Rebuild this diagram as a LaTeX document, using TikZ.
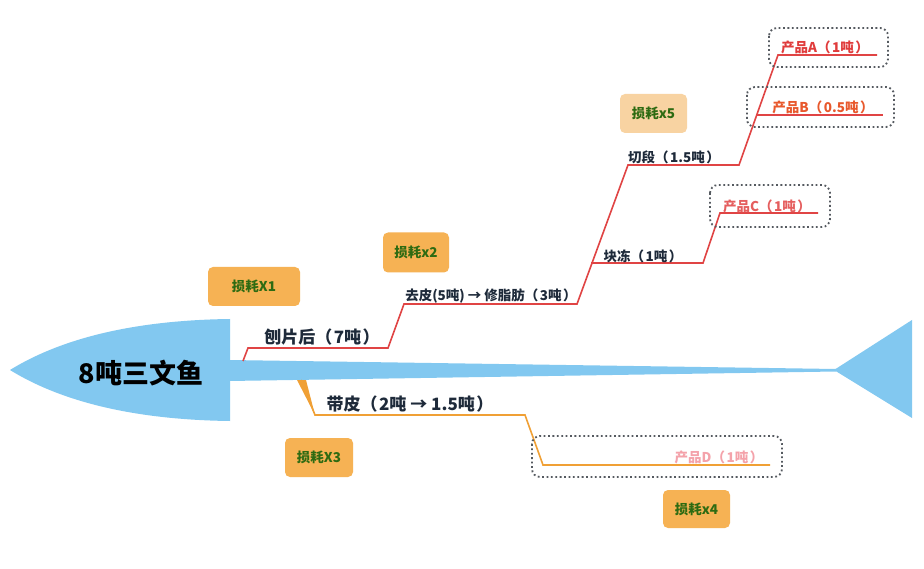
\documentclass[tikz,border=0pt]{standalone}
\usepackage{fontspec}
\setmainfont{Noto Sans CJK SC}
\usetikzlibrary{positioning}
\definecolor{fishblue}{HTML}{82C8F0}
\definecolor{redline}{HTML}{E04444}
\definecolor{orangeline}{HTML}{F0A035}
\definecolor{lossfill}{HTML}{F6B254}
\definecolor{lossfilllight}{HTML}{F8D3A2}
\definecolor{lossgreen}{HTML}{2E6B12}
\definecolor{darktext}{HTML}{1E2A3A}
\definecolor{prodA}{HTML}{E03C3C}
\definecolor{prodB}{HTML}{E8582C}
\definecolor{prodC}{HTML}{E55E5E}
\definecolor{prodD}{HTML}{F4A2AA}
\definecolor{dotgray}{HTML}{555A60}
\newcommand{\lp}{（\kern1.5pt}
\newcommand{\rp}{\kern1.5pt）}
\tikzset{
  lossbox/.style={fill=lossfill, rounded corners=5pt, inner sep=0pt,
    font=\fontsize{13.5}{13.5}\selectfont\bfseries, text=lossgreen},
  stagelabel/.style={inner sep=0pt, text=darktext},
  prodlabel/.style={inner sep=0pt, font=\fontsize{13.5}{13.5}\selectfont\bfseries},
  redbranch/.style={draw=redline, line width=1.6pt, line join=miter},
  orangebranch/.style={draw=orangeline, line width=1.6pt},
  prodframe/.style={draw=dotgray, line width=1.8pt, dash pattern=on 1.8pt off 2.6pt, rounded corners=8pt},
}
\begin{document}
\begin{tikzpicture}[x=1pt,y=-1pt]
\useasboundingbox (0,0) rectangle (924,569);
\fill[white] (0,0) rectangle (924,569);

% fish head
\fill[fishblue] (10,370) .. controls (70,333) and (150,320) .. (230,319)
  -- (230,421) .. controls (150,420) and (70,407) .. (10,370) -- cycle;
% spine
\fill[fishblue] (229,360) -- (836,369) -- (836,371.5) -- (229,381) -- cycle;
% tail
\fill[fishblue] (834,370) -- (912,320) -- (912,418) -- cycle;

\node[inner sep=0pt, font=\fontsize{27}{27}\selectfont\bfseries, text=black] (fish) at (141,373) {8吨三文鱼};

% coordinates of red branch
\coordinate (r0) at (243,361);
\coordinate (r1) at (248,348);
\coordinate (r2) at (388,348);
\coordinate (r3) at (404,304);
\coordinate (r4) at (577,304);
\coordinate (r5) at (628,165);
\coordinate (r6) at (739,165);
\coordinate (r7) at (778,55);
\coordinate (r8) at (877,55);
\coordinate (rb0) at (757,115);
\coordinate (rb1) at (883,115);
\coordinate (rc0) at (591,263);
\coordinate (rc1) at (703,263);
\coordinate (rc2) at (720,213);
\coordinate (rc3) at (818,213);

\draw[redbranch] (r0) -- (r1) -- (r2) -- (r3) -- (r4) -- (r5) -- (r6) -- (r7) -- (r8);
\draw[redbranch] (rb0) -- (rb1);
\draw[redbranch] (rc0) -- (rc1) -- (rc2) -- (rc3);

% orange branch
\coordinate (o0) at (301,380);
\coordinate (o1) at (315,415);
\coordinate (o2) at (525,415);
\coordinate (o3) at (543,465);
\coordinate (o4) at (770,465);
\fill[orangeline] (297,380) -- (306,380) -- (o1) -- cycle;
\draw[orangebranch] (o0) -- (o1) -- (o2) -- (o3) -- (o4);

% stage labels
\node[stagelabel, font=\fontsize{17}{17}\selectfont\bfseries] (s1) at (322,337) {刨片后\lp 7吨\rp};
\node[stagelabel, font=\fontsize{13.5}{13.5}\selectfont\bfseries] (s2) at (491,296) {去皮(5吨) → 修脂肪\lp 3吨\rp};
\node[stagelabel, font=\fontsize{13.5}{13.5}\selectfont\bfseries] (s3) at (674,157) {切段\lp 1.5吨\rp};
\node[stagelabel, font=\fontsize{13.5}{13.5}\selectfont\bfseries] (s4) at (643,256) {块冻\lp 1吨\rp};
\node[stagelabel, font=\fontsize{17}{17}\selectfont\bfseries] (s5) at (410,404) {带皮\lp 2吨 → 1.5吨\rp};

% product frames
\draw[prodframe] (769,28) rectangle (888,67);
\draw[prodframe] (747,87) rectangle (894,127);
\draw[prodframe] (710,185) rectangle (830,227);
\draw[prodframe] (532,436) rectangle (782,477);

% product labels
\node[prodlabel, text=prodA] (pA) at (825,47) {产品A\lp 1吨\rp};
\node[prodlabel, text=prodB] (pB) at (823,107) {产品B\lp 0.5吨\rp};
\node[prodlabel, text=prodC] (pC) at (767,206) {产品C\lp 1吨\rp};
\node[prodlabel, text=prodD] (pD) at (719,457) {产品D\lp 1吨\rp};

% loss boxes
\node[lossbox, minimum width=92pt, minimum height=39pt] (l1) at (254,286.5) {损耗X1};
\node[lossbox, minimum width=66pt, minimum height=40pt] (l2) at (416,252.5) {损耗x2};
\node[lossbox, fill=lossfilllight, minimum width=67pt, minimum height=39pt] (l5) at (653.5,113.5) {损耗x5};
\node[lossbox, minimum width=68pt, minimum height=39pt] (l3) at (319,457.5) {损耗X3};
\node[lossbox, minimum width=67pt, minimum height=38pt] (l4) at (696.5,509) {损耗x4};
\end{tikzpicture}
\end{document}
